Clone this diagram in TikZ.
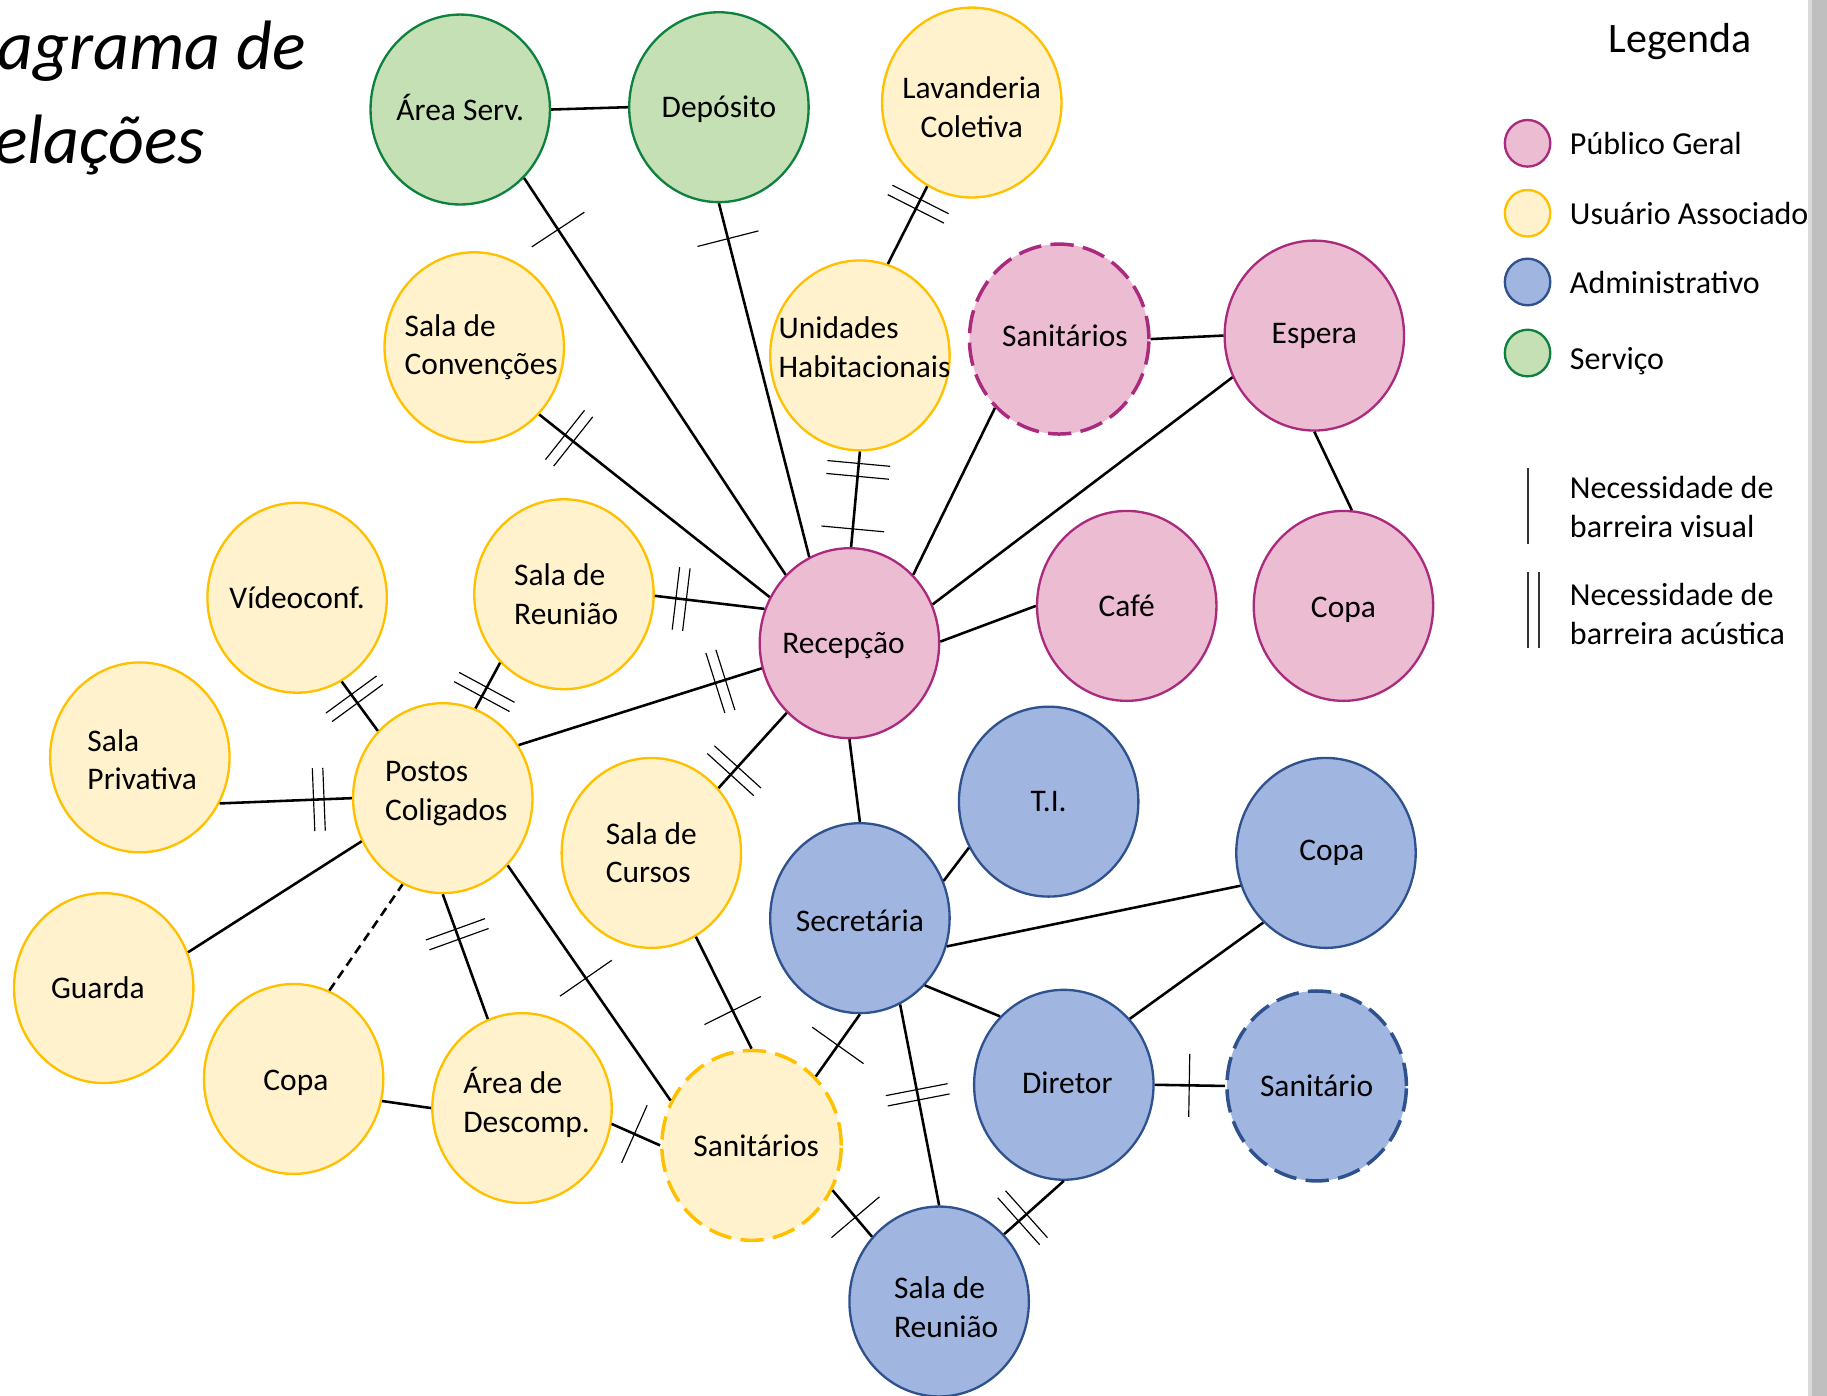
\documentclass[tikz,border=0pt]{standalone}
\usepackage{fontspec}
\setmainfont{Carlito}
\usepackage{tikz}
\usetikzlibrary{shapes.geometric,decorations.markings}
\definecolor{pubfill}{HTML}{ECBDD2}
\definecolor{publine}{HTML}{AA2A7E}
\definecolor{usufill}{HTML}{FFF2CC}
\definecolor{usuline}{HTML}{FFC000}
\definecolor{admfill}{HTML}{A0B6E0}
\definecolor{admline}{HTML}{2F528F}
\definecolor{servfill}{HTML}{C5E0B4}
\definecolor{servline}{HTML}{0E8040}
\definecolor{barcinza}{HTML}{BFBFBF}
\definecolor{barclara}{HTML}{DADADA}
\newcommand{\roomfont}{\fontsize{13.5}{16.5}\selectfont}

\tikzset{
  room/.style={ellipse, minimum width=77pt, minimum height=81.5pt, inner sep=0pt, line width=1pt},
  pub/.style={room, fill=pubfill, draw=publine},
  usu/.style={room, fill=usufill, draw=usuline},
  adm/.style={room, fill=admfill, draw=admline},
  serv/.style={room, fill=servfill, draw=servline},
  sanit/.style={line width=1.5pt, dash pattern=on 10pt off 4pt},
  roomtxt/.style={align=left, font=\roomfont},
  link/.style={line width=1.1pt},
  barra/.style={line width=0.5pt, black},
  visual/.style={postaction={decorate, decoration={markings,
    mark=at position #1 with {\draw[barra] (0,-13.5pt) -- (0,13.5pt);}}}},
  acustica/.style={postaction={decorate, decoration={markings,
    mark=at position #1 with {\draw[barra] (-2.25pt,-13.5pt) -- (-2.25pt,13.5pt)
      (2.25pt,-13.5pt) -- (2.25pt,13.5pt);}}}},
  legcirc/.style={ellipse, minimum width=19.5pt, minimum height=20pt, inner sep=0pt, line width=1pt},
  legtxt/.style={align=left, font=\fontsize{13.75}{16.5}\selectfont},
  titulo/.style={font=\fontsize{30}{36}\selectfont\itshape, inner sep=0pt}
}

\begin{document}
\begin{tikzpicture}[x=0.5pt,y=-0.5pt]
\useasboundingbox (0,0) rectangle (1568,1198);
\clip (0,0) rectangle (1568,1198);
% title
\node[titulo, anchor=base east] (tit1) at (263,60) {Diagrama de};
\node[titulo, anchor=base east] (tit2) at (176,140) {Relações};

% rooms
\node[serv, label={[roomtxt,yshift=1pt]center:Área Serv.}] (as) at (395,94) {};
\node[serv, label={[roomtxt,yshift=-1pt]center:Depósito}] (dep) at (617,92) {};
\node[usu, label={[roomtxt,align=center,yshift=-2pt]center:Lavanderia\\Coletiva}] (lav) at (834,88) {};
\node[usu, label={[roomtxt,xshift=3pt]center:Sala de\\Convenções}] (conv) at (407,298) {};
\node[usu, label={[roomtxt,xshift=2pt,yshift=3.5pt]center:Unidades\\Habitacionais}] (uh) at (738,305) {};
\node[pub, sanit, label={[roomtxt,xshift=2.5pt,yshift=1.5pt]center:Sanitários}] (sanp) at (909,291) {};
\node[pub, label={[roomtxt]center:Espera}] (esp) at (1128,288) {};
\node[usu, label={[roomtxt]center:Vídeoconf.}] (vid) at (255,513) {};
\node[usu, label={[roomtxt,xshift=1pt]center:Sala de\\Reunião}] (sry) at (484,510) {};
\node[pub, label={[roomtxt,xshift=-2.5pt,yshift=-1pt]center:Recepção}] (rec) at (729,552) {};
\node[pub, label={[roomtxt]center:Café}] (cafe) at (967,520) {};
\node[pub, label={[roomtxt,yshift=-1.5pt]center:Copa}] (copap) at (1153,520) {};
\node[usu, label={[roomtxt,xshift=1pt,yshift=-1pt]center:Sala\\Privativa}] (sp) at (120,650) {};
\node[usu, label={[roomtxt,xshift=1.5pt,yshift=2pt]center:Postos\\Coligados}] (pc) at (380,685) {};
\node[usu, label={[roomtxt]center:Sala de\\Cursos}] (sc) at (559,732) {};
\node[adm, label={[roomtxt]center:T.I.}] (ti) at (900,688) {};
\node[adm, label={[roomtxt,xshift=2.5pt]center:Copa}] (copab) at (1138,732) {};
\node[adm, label={[roomtxt,yshift=-1pt]center:Secretária}] (sec) at (738,788) {};
\node[usu, label={[roomtxt,xshift=-2.5pt]center:Guarda}] (gua) at (89,848) {};
\node[usu, label={[roomtxt,xshift=1pt,yshift=-1.5pt]center:Copa}] (copay) at (252,926) {};
\node[usu, label={[roomtxt,xshift=2pt,yshift=2.5pt]center:Área de\\Descomp.}] (ad) at (448,951) {};
\node[usu, sanit, label={[roomtxt,xshift=2pt]center:Sanitários}] (sany) at (645,983) {};
\node[adm, label={[roomtxt,xshift=1.5pt,yshift=1pt]center:Diretor}] (dir) at (913,931) {};
\node[adm, sanit, label={[roomtxt]center:Sanitário}] (sanb) at (1130,932) {};
\node[adm, label={[roomtxt,xshift=3pt,yshift=-2.5pt]center:Sala de\\Reunião}] (srb) at (806,1117) {};

% relations
\draw[link] (as.0) -- (dep.180);
\draw[link, visual=.13] (as.-47) -- (rec.133);
\draw[link, visual=.1] (dep.-90) -- (rec.115);
\draw[link, acustica=.23] (lav.-118) -- (uh.73);
\draw[link, visual=.125, visual=.26, visual=.81] (uh.-90) -- (rec.89);
\draw[link, acustica=.13] (conv.-46) -- (rec.150);
\draw[link, acustica=.24] (sry.-1) -- (rec.158);
\draw[link] (sanp.-133) -- (rec.47);
\draw[link] (sanp.0) -- (esp.180);
\draw[link] (esp.207) -- (rec.25);
\draw[link] (esp.-90) -- (copap.85);
\draw[link] (cafe.180) -- (rec.1);
\draw[link, acustica=.83] (pc.35) -- (rec.196);
\draw[link, acustica=.23] (sc.44) -- (rec.228);
\draw[link, acustica=.35] (vid.-62) -- (pc.134);
\draw[link, acustica=.64] (sry.227) -- (pc.70);
\draw[link, acustica=.75] (sp.-30) -- (pc.180);
\draw[link] (gua.23) -- (pc.208);
\draw[link, dash pattern=on 4pt off 2.5pt] (copay.68) -- (pc.245);
\draw[link, acustica=.68] (ad.111) -- (pc.-90);
\draw[link, visual=.52] (sany.151) -- (pc.-46);
\draw[link] (copay.-14) -- (ad.180);
\draw[link, visual=.47] (ad.-10) -- (sany.180);
\draw[link, visual=.66] (sc.-62) -- (sany.90);
\draw[link] (rec.-90) -- (sec.90);
\draw[link] (sec.24) -- (ti.210);
\draw[link] (sec.-18) -- (copab.201);
\draw[link] (sec.-46) -- (dir.133);
\draw[link, visual=.5] (sec.-90) -- (sany.47);
\draw[link, acustica=.45] (sec.-65) -- (srb.90);
\draw[link] (dir.45) -- (copab.228);
\draw[link, visual=.49] (dir.0) -- (sanb.180);
\draw[link, acustica=.69] (dir.-90) -- (srb.46);
\draw[link, visual=.58] (sany.-29) -- (srb.136);

% legend
\node[font=\fontsize{18}{22}\selectfont] (legenda) at (1442,36) {Legenda};
\foreach \y/\b/\f/\l/\t in {123/133/pubfill/publine/Público Geral,
    183/193/usufill/usuline/Usuário Associado,
    242/252/admfill/admline/Administrativo,
    303/317/servfill/servline/Serviço}{
  \node[legcirc, fill=\f, draw=\l] (leg-\f) at (1311,\y) {};
  \node[legtxt, anchor=base west, inner sep=0pt] (legt-\f) at (1347,\b) {\t};
}
\draw[barra, line width=0.8pt, black!80] (1311,402) -- (1311,467);
\draw[barra, line width=0.8pt, black!80] (1311,491) -- (1311,556) (1321,491) -- (1321,556);
\node[legtxt, anchor=west, inner sep=0pt] (legvis) at (1347,435) {Necessidade de\\barreira visual};
\node[legtxt, anchor=west, inner sep=0pt] (legac) at (1347,527) {Necessidade de\\barreira acústica};

% page edge
\fill[barclara] (1552,0) rectangle (1555,1198);
\fill[barcinza] (1555,0) rectangle (1568,1198);
\end{tikzpicture}
\end{document}
